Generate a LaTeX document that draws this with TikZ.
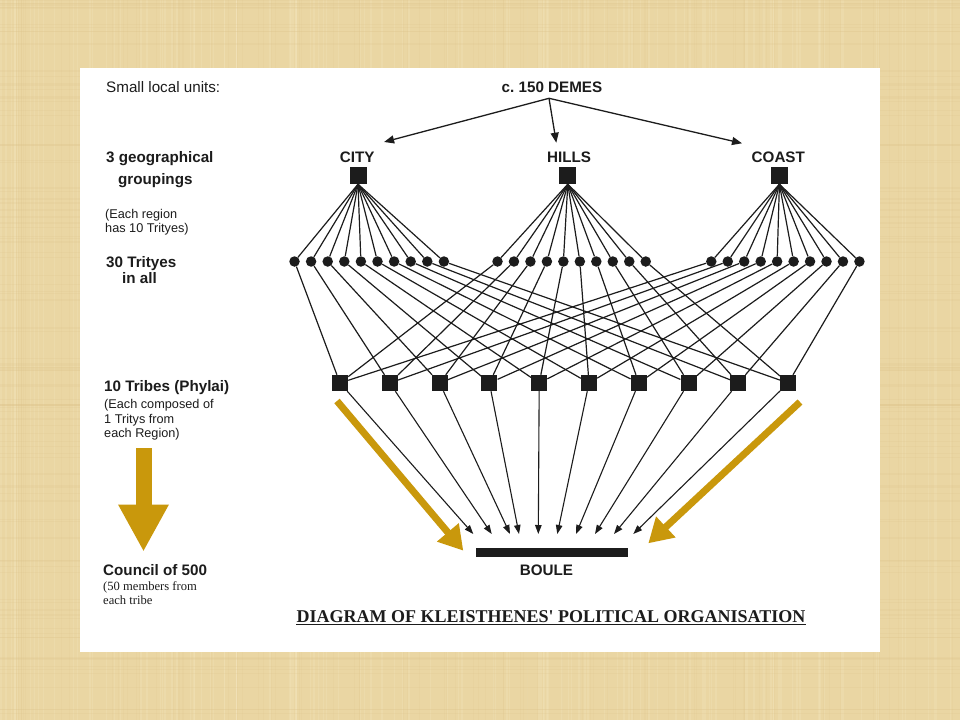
\documentclass[tikz,border=0pt]{standalone}
\usepackage{fontspec}
\usetikzlibrary{arrows.meta}
\newfontfamily\arialf{Liberation Sans}
\newfontfamily\timesf{Liberation Serif}
\definecolor{parch}{HTML}{EAD6A3}
\definecolor{parchlight}{HTML}{F4E6C0}
\definecolor{parchdark}{HTML}{DCC289}
\definecolor{gold}{HTML}{C9980C}
\definecolor{ink}{HTML}{1C1C1C}
\begin{document}
\begin{tikzpicture}[x=1pt,y=-1pt,
  regsq/.style={fill=ink,minimum size=17pt,inner sep=0pt},
  tribesq/.style={fill=ink,minimum size=16pt,inner sep=0pt},
  trdot/.style={circle,fill=ink,minimum size=10.5pt,inner sep=0pt},
  thinline/.style={draw=ink,line width=1.2pt},
  demesarrow/.style={draw=ink,line width=1.3pt,-{Triangle[length=10pt,width=8pt]}},
  boulearrow/.style={draw=ink,line width=1.1pt,-{Triangle[length=9pt,width=6.5pt]}},
  boldlbl/.style={inner sep=0pt,text=ink,font=\arialf\bfseries\fontsize{15.2pt}{18pt}\selectfont},
  reglbl/.style={inner sep=0pt,text=ink,font=\arialf\fontsize{15.2pt}{18pt}\selectfont},
  smalllbl/.style={anchor=base west,inner sep=0pt,text=ink,font=\arialf\fontsize{12.7pt}{15pt}\selectfont},
  serlbl/.style={anchor=base west,inner sep=0pt,text=ink,font=\timesf\fontsize{12.6pt}{15pt}\selectfont},
  goldarrow/.style={draw=gold,line cap=butt}
]
\useasboundingbox (0,0) rectangle (960,720);
\fill[parch] (0,0) rectangle (960,720);
% parchment texture
\pgfmathsetseed{11}
\foreach \n in {1,...,140}{
  \pgfmathsetmacro\xx{rnd*960}
  \pgfmathsetmacro\ww{0.5+rnd*1.5}
  \draw[parchlight,opacity=0.25,line width=\ww pt] (\xx,0) -- (\xx,720);
}
\foreach \n in {1,...,110}{
  \pgfmathsetmacro\yy{rnd*720}
  \pgfmathsetmacro\ww{0.5+rnd*1.3}
  \draw[parchdark,opacity=0.18,line width=\ww pt] (0,\yy) -- (960,\yy);
}
\foreach \n in {1,...,90}{
  \pgfmathsetmacro\xx{rnd*960}
  \draw[parchdark,opacity=0.14,line width=0.7pt] (\xx,0) -- (\xx,720);
}
\fill[white] (80,68) rectangle (880,652);

% ---- left column labels
\node[reglbl,anchor=base west] (lsmall) at (106,92) {Small local units:};
\node[boldlbl,anchor=base west] (lgeoA) at (106,162.5) {3 geographical};
\node[boldlbl,anchor=base west] (lgeoB) at (118,184) {groupings};
\node[smalllbl] (leachA) at (105,218) {(Each region};
\node[smalllbl] (leachB) at (105,232) {has 10 Trityes)};
\node[boldlbl,anchor=base west] (ltritA) at (106,267) {30 Trityes};
\node[boldlbl,anchor=base west] (ltritB) at (122,283.5) {in all};
\node[boldlbl,anchor=base west] (ltribe) at (104,391) {10 Tribes (Phylai)};
\node[smalllbl] (lcompA) at (104,408.5) {(Each composed of};
\node[smalllbl] (lcompB) at (104,423) {1 Tritys from};
\node[smalllbl] (lcompC) at (104,437.5) {each Region)};
\node[boldlbl,anchor=base west] (lcouncil) at (103,575.5) {Council of 500};
\node[serlbl] (lmemA) at (103,590.5) {(50 members from};
\node[serlbl] (lmemB) at (103,604) {each tribe};

% ---- gold arrows
\coordinate (vgA) at (143.5,448);
\coordinate (vgB) at (143.5,551.7);
\draw[goldarrow,line width=16pt,-{Triangle[length=47pt,width=47pt]}] (vgA) -- (vgB);
\coordinate (lgA) at (337,401);
\coordinate (lgB) at (463.3,550.7);
\draw[goldarrow,line width=7pt,-{Triangle[length=24pt,width=27pt]}] (lgA) -- (lgB);
\coordinate (rgA) at (800,402);
\coordinate (rgB) at (648.3,543.3);
\draw[goldarrow,line width=7pt,-{Triangle[length=24pt,width=27pt]}] (rgA) -- (rgB);

% ---- top
\node[boldlbl,anchor=base] (demes) at (552,92) {c.\ 150 DEMES};
\coordinate (demesfoot) at (549,98.3);
\coordinate (cityarr) at (384.1,142);
\coordinate (hillsarr) at (556.3,142.7);
\coordinate (coastarr) at (742,143.3);
\draw[demesarrow] (demesfoot) -- (cityarr);
\draw[demesarrow] (demesfoot) -- (hillsarr);
\draw[demesarrow] (demesfoot) -- (coastarr);

\node[boldlbl,anchor=base] (citylbl) at (357.3,162.5) {CITY};
\node[boldlbl,anchor=base] (hillslbl) at (569,162.5) {HILLS};
\node[boldlbl,anchor=base] (coastlbl) at (778.3,162.5) {COAST};

\node[regsq] (city) at (358,175.5) {};
\node[regsq] (hills) at (567.8,175.5) {};
\node[regsq] (coast) at (779.4,175.5) {};

% ---- trittyes and tribes
\foreach \i in {1,...,10}{
  \pgfmathsetmacro\cx{294.5+16.6*(\i-1)}
  \pgfmathsetmacro\hx{497.5+16.47*(\i-1)}
  \pgfmathsetmacro\kx{711.3+16.46*(\i-1)}
  \pgfmathsetmacro\tx{340+49.8*(\i-1)}
  \node[trdot] (c\i) at (\cx,261.5) {};
  \node[trdot] (h\i) at (\hx,261.5) {};
  \node[trdot] (k\i) at (\kx,261.5) {};
  \node[tribesq] (t\i) at (\tx,383) {};
}
\foreach \i in {1,...,10}{
  \draw[thinline] (city.south) -- (c\i);
  \draw[thinline] (hills.south) -- (h\i);
  \draw[thinline] (coast.south) -- (k\i);
  \draw[thinline] (c\i) -- (t\i);
  \draw[thinline] (h\i) -- (t\i);
  \draw[thinline] (k\i) -- (t\i);
}

% ---- tribes to boule
\foreach \i/\bx in {1/473.3,2/491.7,3/510,4/519,5/538.3,6/557.3,7/576,8/595,9/614,10/633.3}{
  \coordinate (b\i) at (\bx,534);
  \draw[boulearrow] (t\i) -- (b\i);
}
\node[fill=ink,minimum width=152pt,minimum height=9.6pt,inner sep=0pt] (boulebar) at (551.5,552.5) {};
\node[boldlbl,anchor=base] (boule) at (546.5,575) {BOULE};

% ---- title
\node[anchor=base,inner sep=0pt,text=ink,font=\timesf\bfseries\fontsize{18pt}{20pt}\selectfont] (title) at (551,622) {DIAGRAM OF KLEISTHENES' POLITICAL ORGANISATION};
\draw[ink,line width=1.4pt] ([yshift=-2.6pt]title.base west) -- ([yshift=-2.6pt]title.base east);
\end{tikzpicture}
\end{document}
